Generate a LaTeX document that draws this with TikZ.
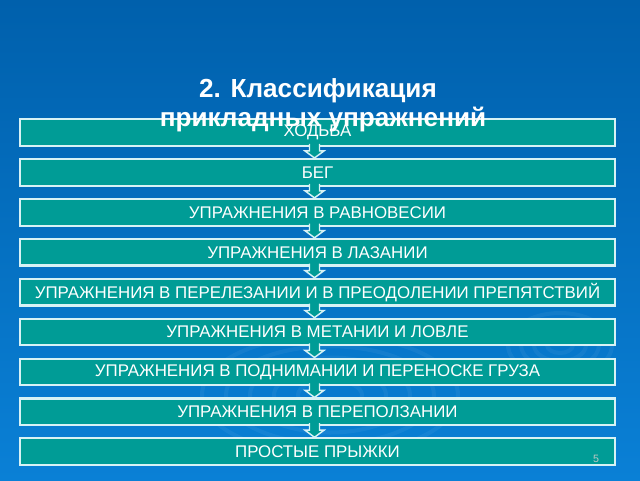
\documentclass[tikz,border=0pt]{standalone}
\usepackage{fontspec}
\setmainfont{Liberation Sans}
\usetikzlibrary{calc}
\definecolor{bgtop}{RGB}{0,96,172}
\definecolor{bgbot}{RGB}{10,128,214}
\definecolor{boxfill}{RGB}{0,156,150}
\definecolor{boxline}{RGB}{215,242,245}
\definecolor{pagenum}{RGB}{190,200,195}
\tikzset{
  stepbox/.style={draw=boxline, line width=1.6pt, fill=boxfill, minimum width=446pt,
    minimum height=20pt, inner sep=0pt, text=white,
    font=\fontsize{12.65pt}{14pt}\selectfont},
  blockarrow/.style={draw=boxline, line width=1.1pt, fill=boxfill, line join=miter},
  titletext/.style={text=white, font=\fontsize{19.6pt}{23pt}\selectfont\bfseries, anchor=base, inner sep=0pt},
  swirl/.style={draw=white, opacity=0.05, line width=3pt}
}
\begin{document}
\begin{tikzpicture}[x=0.75pt, y=-0.75pt]
\useasboundingbox (0,0) rectangle (640,480);
\shade[top color=bgtop, bottom color=bgbot] (0,0) rectangle (640,480);
% faint swirl background
\foreach \r in {20,35,50,65,80}{
  \draw[swirl] (330,395) ellipse ({\r*1.6} and {\r*0.75});
}
\foreach \r in {10,20,30,40}{
  \draw[swirl] (560,345) ellipse ({\r*1.3} and {\r*0.8});
}
% boxes
\node[stepbox] (b1) at (317.5,132.5) {ХОДЬБА};
\node[stepbox] (b2) at (317.5,172.4) {БЕГ};
\node[stepbox] (b3) at (317.5,212.3) {УПРАЖНЕНИЯ В РАВНОВЕСИИ};
\node[stepbox] (b4) at (317.5,252.2) {УПРАЖНЕНИЯ В ЛАЗАНИИ};
\node[stepbox] (b5) at (317.5,292.1) {УПРАЖНЕНИЯ В ПЕРЕЛЕЗАНИИ И В ПРЕОДОЛЕНИИ ПРЕПЯТСТВИЙ};
\node[stepbox] (b6) at (317.5,332.0) {УПРАЖНЕНИЯ В МЕТАНИИ И ЛОВЛЕ};
\node[stepbox] (b7) at (317.5,371.9) {УПРАЖНЕНИЯ В ПОДНИМАНИИ И ПЕРЕНОСКЕ ГРУЗА};
\node[stepbox] (b8) at (317.5,411.8) {УПРАЖНЕНИЯ В ПЕРЕПОЛЗАНИИ};
\node[stepbox] (b9) at (317.5,451.7) {ПРОСТЫЕ ПРЫЖКИ};
% block arrows
\foreach \a/\b in {b1/b2,b2/b3,b3/b4,b4/b5,b5/b6,b6/b7,b7/b8,b8/b9}{
  \draw[blockarrow]
    ($(\a.south)+(-8,-3)$) -- ($(\a.south)+(-8,4)$) -- ($(\a.south)+(-12.5,4)$)
    -- ($(\b.north)+(-3,0)$)
    -- ($(\a.south)+(6.5,4)$) -- ($(\a.south)+(2,4)$) -- ($(\a.south)+(2,-3)$);
}
% title
\node[titletext] (t1) at (318,97) {2. Классификация};
\node[titletext] (t2) at (323,126) {прикладных упражнений};
% page number
\node[text=pagenum, font=\fontsize{8pt}{9pt}\selectfont, inner sep=0pt] (pn) at (596,459) {5};
\end{tikzpicture}
\end{document}
